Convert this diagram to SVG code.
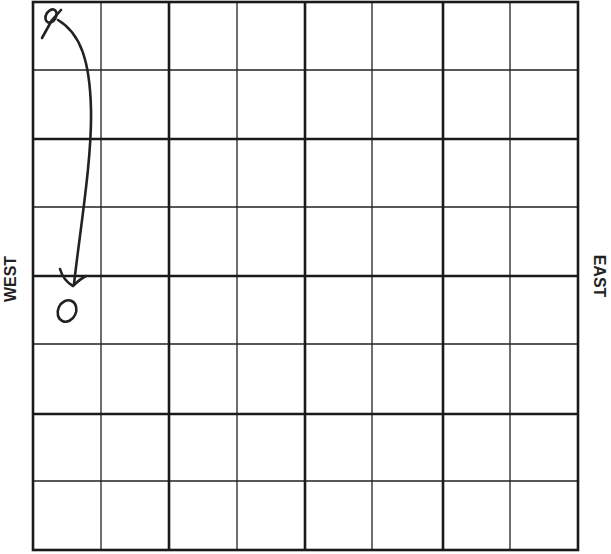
<svg xmlns="http://www.w3.org/2000/svg" width="611" height="554" viewBox="0 0 611 554">
<style>
.thin{stroke:#222;stroke-width:1.3;fill:none}
.thick{stroke:#1a1a1a;stroke-width:2.6;fill:none}
.pen{stroke:#222;stroke-width:2.6;fill:none;stroke-linecap:round;stroke-linejoin:round}
.lbl{font-family:"Liberation Sans",Arial,sans-serif;font-size:16px;font-weight:bold;fill:#222}
</style>
<rect width="611" height="554" fill="#fff"/>
<g id="grid">
<path class="thin" d="M101,2V550M237,2V550M372,2V550M510,2V550M33,70H578M33,207H578M33,344H578M33,481H578"/>
<path class="thick" d="M169,2V550M305,2V550M443,2V550M33,139H578M33,276H578M33,414H578"/>
<rect class="thick" x="33" y="2" width="545" height="548"/>
</g>
<g id="start">
<ellipse class="pen" cx="51" cy="16" rx="5" ry="7" transform="rotate(30 51 16)"/>
<path class="pen" d="M42,38L52,20L61,10"/>
</g>
<g id="connectors">
<path class="pen" d="M58,20C80,33 90,60 91,110C92,160 80,230 74,284"/>
<path class="pen" d="M60,269C62,276 66,282 73,286C78,281 82,278 86,276"/>
</g>
<g id="end">
<ellipse class="pen" cx="67" cy="311" rx="9" ry="11" transform="rotate(25 67 311)"/>
</g>
<text class="lbl" transform="translate(16,279) rotate(-90)" text-anchor="middle">WEST</text>
<text class="lbl" transform="translate(594,276) rotate(90)" text-anchor="middle">EAST</text>
</svg>
